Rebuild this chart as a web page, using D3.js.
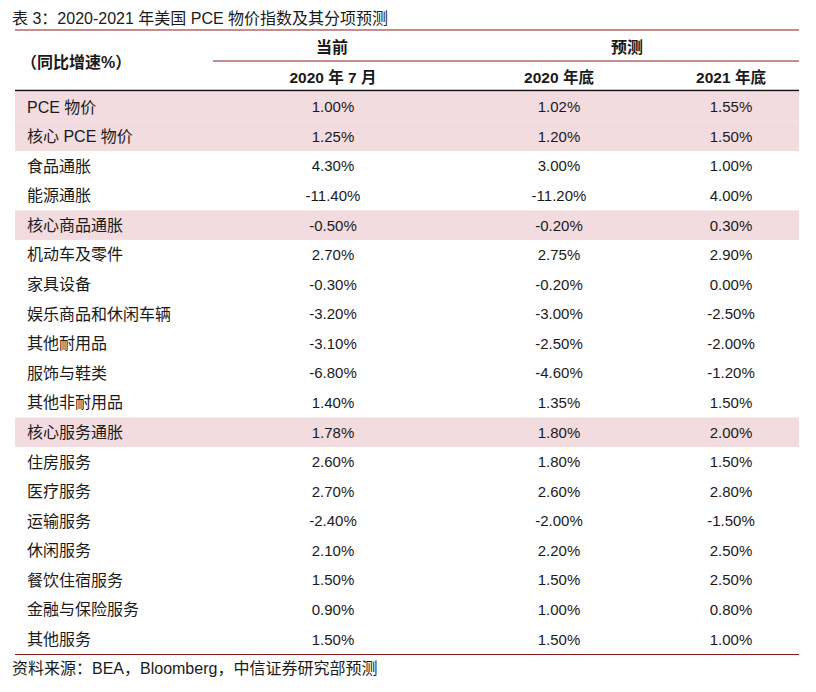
<!DOCTYPE html>
<html>
<head>
<meta charset="utf-8">
<script src="https://cdn.jsdelivr.net/npm/d3@7"></script>
<style>
  body { margin: 0; background: #fff; }
  svg text { font-family: "Liberation Sans", Arial, "Noto Sans CJK SC", sans-serif; fill: #1a1a1a; }
</style>
</head>
<body>
<div id="chart"></div>
<script>
// table contents
const title = "表 3：2020-2021 年美国 PCE 物价指数及其分项预测";
const source = "资料来源：BEA，Bloomberg，中信证券研究部预测";
const rowHeader = "（同比增速%）";
const groupLabels = ["当前", "预测"];
const columnLabels = ["2020 年 7 月", "2020 年底", "2021 年底"];

const categories = [
  "PCE 物价", "核心 PCE 物价", "食品通胀", "能源通胀", "核心商品通胀",
  "机动车及零件", "家具设备", "娱乐商品和休闲车辆", "其他耐用品", "服饰与鞋类",
  "其他非耐用品", "核心服务通胀", "住房服务", "医疗服务", "运输服务",
  "休闲服务", "餐饮住宿服务", "金融与保险服务", "其他服务"
];
const jul2020 = [1.00, 1.25, 4.30, -11.40, -0.50, 2.70, -0.30, -3.20, -3.10, -6.80,
  1.40, 1.78, 2.60, 2.70, -2.40, 2.10, 1.50, 0.90, 1.50];
const end2020 = [1.02, 1.20, 3.00, -11.20, -0.20, 2.75, -0.20, -3.00, -2.50, -4.60,
  1.35, 1.80, 1.80, 2.60, -2.00, 2.20, 1.50, 1.00, 1.50];
const end2021 = [1.55, 1.50, 1.00, 4.00, 0.30, 2.90, 0.00, -2.50, -2.00, -1.20,
  1.50, 2.00, 1.50, 2.80, -1.50, 2.50, 2.50, 0.80, 1.00];
const highlighted = ["PCE 物价", "核心 PCE 物价", "核心商品通胀", "核心服务通胀"];

const width = 816, height = 692;
const left = 15, right = 799;
const red = "#8c1c1c", shade = "#f2dcdf";

const svg = d3.select("#chart").append("svg")
  .attr("width", width)
  .attr("height", height);

// scales
const y = d3.scaleBand().domain(categories).range([92, 654]);
const x = d3.scaleOrdinal().domain(columnLabels).range([333, 559, 731]);
const series = [jul2020, end2020, end2021];
// plain hyphen for negatives, like the source table
const fmt = v => v.toFixed(2) + "%";

// title
svg.append("text")
  .attr("x", 12).attr("y", 24)
  .style("font-size", "16px")
  .text(title);

// highlighted row backgrounds
svg.selectAll("rect.shade")
  .data(categories.filter(c => highlighted.includes(c)))
  .join("rect")
  .attr("class", "shade")
  .attr("x", left)
  .attr("y", d => y(d))
  .attr("width", right - left)
  .attr("height", y.bandwidth())
  .attr("fill", shade);

// header rules
svg.append("line").attr("x1", left).attr("x2", right).attr("y1", 30).attr("y2", 30)
  .attr("stroke", red).attr("stroke-width", 1.2);
svg.append("line").attr("x1", 213).attr("x2", right).attr("y1", 61).attr("y2", 61)
  .attr("stroke", red).attr("stroke-width", 1.2);
svg.append("line").attr("x1", left).attr("x2", right).attr("y1", 90.5).attr("y2", 90.5)
  .attr("stroke", "#111").attr("stroke-width", 1.3);
svg.append("line").attr("x1", left).attr("x2", right).attr("y1", 654.5).attr("y2", 654.5)
  .attr("stroke", red).attr("stroke-width", 1.2);

// header text
svg.append("text")
  .attr("x", 21).attr("y", 68)
  .style("font-size", "16px").style("font-weight", "bold")
  .text(rowHeader);

svg.selectAll("text.group")
  .data(groupLabels)
  .join("text")
  .attr("class", "group")
  .attr("x", (d, i) => i === 0 ? x(columnLabels[0]) - 1 : (x(columnLabels[1]) + x(columnLabels[2])) / 2 - 18)
  .attr("y", 53)
  .attr("text-anchor", "middle")
  .style("font-size", "16px").style("font-weight", "bold")
  .text(d => d);

svg.selectAll("text.colhead")
  .data(columnLabels)
  .join("text")
  .attr("class", "colhead")
  .attr("x", d => x(d))
  .attr("y", 83)
  .attr("text-anchor", "middle")
  .style("font-size", "15.5px").style("font-weight", "bold")
  .text(d => d);

// body rows
const rows = svg.selectAll("g.row")
  .data(categories)
  .join("g")
  .attr("class", "row")
  .attr("transform", d => `translate(0,${y(d) + y.bandwidth() / 2})`);

rows.append("text")
  .attr("x", 27)
  .attr("dy", "0.36em")
  .style("font-size", "16px")
  .text(d => d);

columnLabels.forEach((col, ci) => {
  rows.append("text")
    .attr("x", x(col))
    .attr("dy", "0.36em")
    .attr("text-anchor", "middle")
    .style("font-size", "15px")
    .text((d, i) => fmt(series[ci][i]));
});

// source
svg.append("text")
  .attr("x", 12).attr("y", 674)
  .style("font-size", "16px")
  .text(source);
</script>
</body>
</html>
